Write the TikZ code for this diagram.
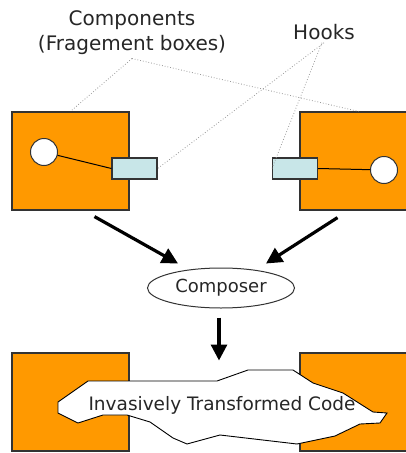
\documentclass[tikz,border=0pt]{standalone}
\usepackage{fontspec}
\setmainfont{DejaVu Sans}
\usetikzlibrary{arrows.meta,shapes.geometric}
\definecolor{fragorange}{HTML}{FF9900}
\definecolor{hookblue}{HTML}{C8E6E8}
\definecolor{rahmen}{HTML}{333333}

\begin{document}
\begin{tikzpicture}[x=1pt, y=-1pt,
  every node/.style={text=black!85},
  fragment/.style={draw=rahmen, line width=1.2pt, fill=fragorange, minimum width=117pt, minimum height=98pt, inner sep=0pt},
  hook/.style={draw=rahmen, line width=1.2pt, fill=hookblue, minimum width=45pt, minimum height=21pt, inner sep=0pt},
  kugel/.style={circle, draw=rahmen, line width=1pt, fill=white, minimum size=27pt, inner sep=0pt},
  zeiger/.style={gray!80, dotted, line width=0.8pt},
  pfeil/.style={line width=3.2pt, -{Triangle[length=16pt,width=16pt]}}]
  \clip (0,0) rectangle (406,453);
  % Beschriftungen oben
  \node[align=center, font=\fontsize{20}{25}\selectfont] (comp) at (132,33) {Components\\(Fragement boxes)};
  \node[anchor=base, font=\fontsize{20}{25}\selectfont] (hooks) at (324,39) {Hooks};
  % Fragmentboxen mit Kugel und Hook
  \node[fragment] (lbox) at (70.5,161) {};
  \node[fragment] (rbox) at (358.5,161) {};
  \node[kugel] (lkugel) at (44,152) {};
  \node[kugel] (rkugel) at (384,170) {};
  \node[hook] (lhook) at (134.5,168.5) {};
  \node[hook] (rhook) at (295,168.5) {};
  \draw[line width=1pt] (lkugel) -- (lhook.west);
  \draw[line width=1pt] (rhook.east) -- (rkugel);
  % gepunktete Zeiger
  \draw[zeiger] (comp.south) -- (lbox.north);
  \draw[zeiger] (comp.south) -- (rbox.north);
  \draw[zeiger] (hooks.south) -- (lhook.east);
  \draw[zeiger] ([xshift=-2pt]hooks.south) -- (rhook.west);
  % Composer
  \node[ellipse, draw=rahmen, line width=1pt, minimum width=147pt, minimum height=40pt, inner sep=0pt,
        font=\fontsize{18}{20}\selectfont] (composer) at (221,288) {Composer};
  \draw[pfeil] ([shift={(24,6)}]lbox.south) -- ([shift={(-43,-4)}]composer.north);
  \draw[pfeil] ([shift={(-21,7)}]rbox.south) -- ([shift={(45,-4)}]composer.north);
  \draw[pfeil] ([shift={(-2,9)}]composer.south) -- ([shift={(-2,52)}]composer.south);
  % Ergebnis unten
  \node[fragment] (lbox2) at (70.5,402) {};
  \node[fragment] (rbox2) at (358.5,402) {};
  \draw[fill=white, line width=0.9pt] (88,381) -- (217,381) -- (248,370) -- (293,370) -- (313,383)
    -- (343,393) -- (373,412) -- (387,413) -- (380,423) -- (360,424) -- (335,436) -- (297,444)
    -- (220,435) -- (187,444) -- (173,438) -- (150,422) -- (127,415) -- (103,415) -- (78,423)
    -- (58,413) -- (58,402) -- cycle;
  \node[font=\fontsize{18.5}{20}\selectfont] (code) at (222,405) {Invasively Transformed Code};
\end{tikzpicture}
\end{document}
